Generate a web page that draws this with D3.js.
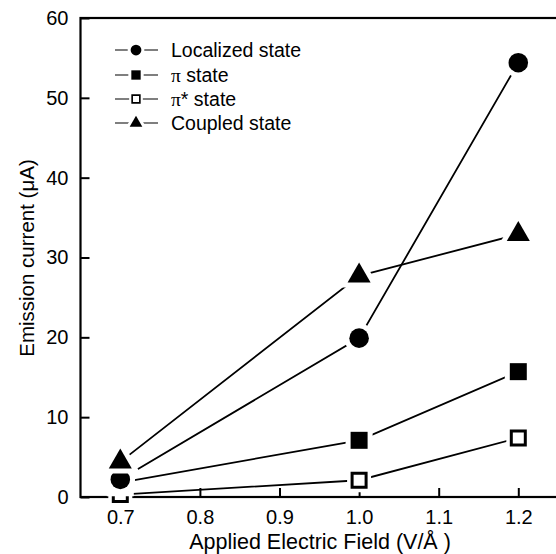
<!DOCTYPE html>
<html>
<head>
<meta charset="utf-8">
<script src="https://cdn.jsdelivr.net/npm/d3@7"></script>
<style>
  body { margin: 0; background: #fff; }
  text { font-family: "Liberation Sans", Arial, sans-serif; fill: #000; }
</style>
</head>
<body>
<script>
// values
let fields = [0.7, 1.0, 1.2];
let localized = [2.2, 19.9, 54.4];
let piState = [1.8, 7.1, 15.7];
let piStar = [0.3, 2.1, 7.4];
let coupled = [4.4, 27.7, 32.9];
let xTicks = [0.7, 0.8, 0.9, 1.0, 1.1, 1.2];
let yTicks = [0, 10, 20, 30, 40, 50, 60];

let w = 556, h = 554;
let margin = {top: 18, left: 80.5, bottom: 57};
let width = 477.6, height = h - margin.top - margin.bottom;

let series = [
  {name: "Localized state", values: localized, shape: d3.symbolCircle, size: 300, filled: true},
  {name: "\u03c0 state", values: piState, shape: d3.symbolSquare, size: 289, filled: true},
  {name: "\u03c0* state", values: piStar, shape: d3.symbolSquare, size: 196, filled: false},
  {name: "Coupled state", values: coupled, shape: d3.symbolTriangle, size: 230, filled: true}
];

let svg = d3.select("body").append("svg")
  .attr("width", w)
  .attr("height", h);

let xScale = d3.scaleLinear().domain([0.65, 1.25]).range([0, width]);
let yScale = d3.scaleLinear().domain([0, 60]).range([height, 0]);

let g = svg.append("g")
  .attr("transform", "translate(" + margin.left + "," + margin.top + ")");

// frame
g.append("rect")
  .attr("width", width)
  .attr("height", height)
  .attr("fill", "none")
  .attr("stroke", "#000")
  .attr("stroke-width", 2.2);

// y axis, ticks pointing inward
let yAxis = g.append("g")
  .call(d3.axisRight(yScale).tickValues(yTicks).tickSize(9).tickFormat(d3.format("d")));
yAxis.select(".domain").remove();
yAxis.selectAll("line").attr("stroke-width", 2);
yAxis.selectAll("text")
  .attr("x", -12)
  .attr("text-anchor", "end")
  .attr("font-size", "20px")
  .attr("font-family", "Liberation Sans, Arial, sans-serif");

// x axis, ticks pointing inward
let xAxis = g.append("g")
  .attr("transform", "translate(0," + height + ")")
  .call(d3.axisTop(xScale).tickValues(xTicks).tickSize(9).tickFormat(d3.format(".1f")));
xAxis.select(".domain").remove();
xAxis.selectAll("line").attr("stroke-width", 2);
xAxis.selectAll("text")
  .attr("y", 27)
  .attr("dy", 0)
  .attr("font-size", "20px")
  .attr("font-family", "Liberation Sans, Arial, sans-serif");

// axis titles
svg.append("text")
  .attr("x", 320)
  .attr("y", 549)
  .attr("text-anchor", "middle")
  .attr("font-size", "21.5px")
  .text("Applied Electric Field (V/\u00c5 )");

svg.append("text")
  .attr("transform", "translate(34,258) rotate(-90)")
  .attr("text-anchor", "middle")
  .attr("font-size", "20.5px")
  .text("Emission current (\u03bcA)");

// lines
let line = d3.line()
  .x(function (d, i) { return xScale(fields[i]); })
  .y(function (d) { return yScale(d); });

series.forEach(function (s) {
  g.append("path")
    .attr("d", line(s.values))
    .attr("fill", "none")
    .attr("stroke", "#000")
    .attr("stroke-width", 1.8);
});

// markers with white halo so the lines stop short
function drawMarker(sel, s, x, y, scale, halo) {
  let sym = d3.symbol().type(s.shape).size(s.size * scale * scale);
  sel.append("path")
    .attr("d", sym())
    .attr("transform", "translate(" + x + "," + y + ")")
    .attr("fill", "#fff")
    .attr("stroke", "#fff")
    .attr("stroke-width", halo);
  sel.append("path")
    .attr("d", sym())
    .attr("transform", "translate(" + x + "," + y + ")")
    .attr("fill", s.filled ? "#000" : "#fff")
    .attr("stroke", "#000")
    .attr("stroke-width", s.filled ? 0 : 3 * scale);
}

[2, 1, 0, 3].forEach(function (k) {
  let s = series[k];
  s.values.forEach(function (v, i) {
    drawMarker(g, s, xScale(fields[i]), yScale(v), 1, 10);
  });
});

// legend
let legend = svg.append("g");
let rowY = [50, 75, 99, 123];
series.forEach(function (s, i) {
  let row = legend.append("g");
  row.append("line")
    .attr("x1", 115).attr("x2", 158)
    .attr("y1", rowY[i]).attr("y2", rowY[i])
    .attr("stroke", "#000")
    .attr("stroke-width", 1.2);
  drawMarker(row, s, 136, rowY[i], 0.55, 6);
  let t = row.append("text")
    .attr("x", 171)
    .attr("y", rowY[i] + 7)
    .attr("font-size", "19.5px");
  if (s.name.charAt(0) === "\u03c0") {
    t.append("tspan").attr("font-family", "Liberation Serif, Times New Roman, serif").text("\u03c0");
    t.append("tspan").text(s.name.slice(1));
  } else {
    t.text(s.name);
  }
});
</script>
</body>
</html>
